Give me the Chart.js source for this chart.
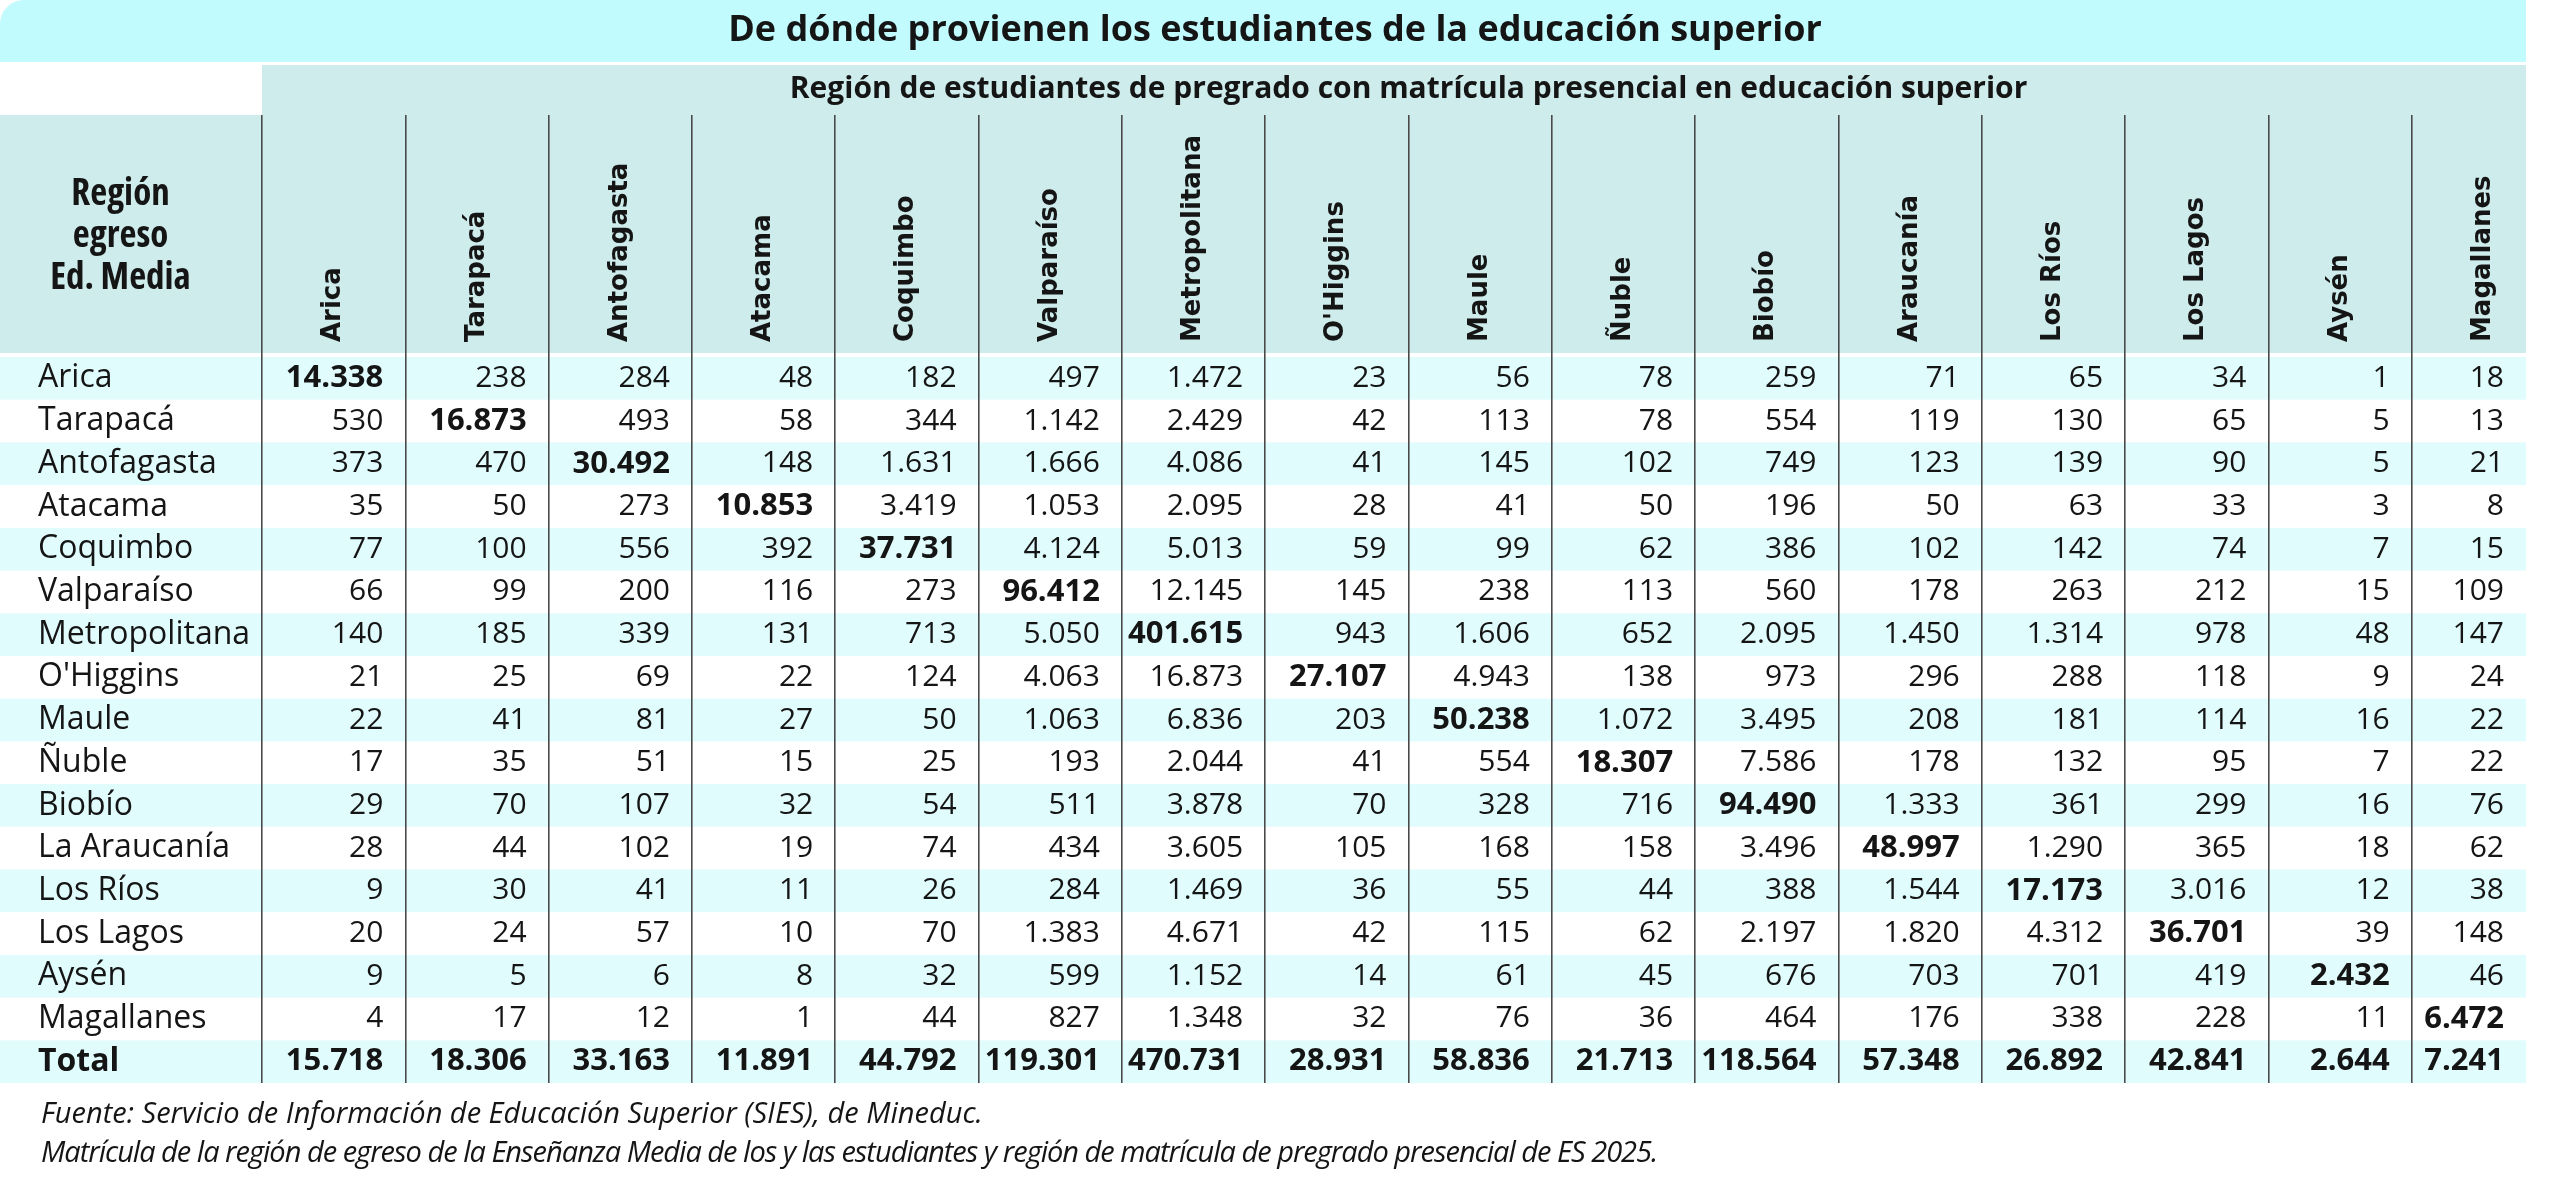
<!DOCTYPE html>
<html>
<head>
<meta charset="utf-8">
<script src="https://cdn.jsdelivr.net/npm/chart.js"></script>
<style>
  html, body { margin: 0; padding: 0; background: #ffffff; }
  #wrap { width: 2560px; height: 1182px; }
</style>
</head>
<body>
<div id="wrap"><canvas id="tabla"></canvas></div>
<script>
const titulo = 'De dónde provienen los estudiantes de la educación superior';
const subtitulo = 'Región de estudiantes de pregrado con matrícula presencial en educación superior';
const encabezadoFilas = ['Región', 'egreso', 'Ed. Media'];
const notas = [
  'Fuente: Servicio de Información de Educación Superior (SIES), de Mineduc.',
  'Matrícula de la región de egreso de la Enseñanza Media de los y las estudiantes y región de matrícula de pregrado presencial de ES 2025.'
];

// columnas: region de matricula en educacion superior
const destinos = ['Arica', 'Tarapacá', 'Antofagasta', 'Atacama', 'Coquimbo', 'Valparaíso', 'Metropolitana', "O'Higgins",
  'Maule', 'Ñuble', 'Biobío', 'Araucanía', 'Los Ríos', 'Los Lagos', 'Aysén', 'Magallanes'];
// filas: region de egreso de la ensenanza media
const origenes = ['Arica', 'Tarapacá', 'Antofagasta', 'Atacama', 'Coquimbo', 'Valparaíso', 'Metropolitana', "O'Higgins",
  'Maule', 'Ñuble', 'Biobío', 'La Araucanía', 'Los Ríos', 'Los Lagos', 'Aysén', 'Magallanes'];

const filaArica = [14338, 238, 284, 48, 182, 497, 1472, 23, 56, 78, 259, 71, 65, 34, 1, 18];
const filaTarapaca = [530, 16873, 493, 58, 344, 1142, 2429, 42, 113, 78, 554, 119, 130, 65, 5, 13];
const filaAntofagasta = [373, 470, 30492, 148, 1631, 1666, 4086, 41, 145, 102, 749, 123, 139, 90, 5, 21];
const filaAtacama = [35, 50, 273, 10853, 3419, 1053, 2095, 28, 41, 50, 196, 50, 63, 33, 3, 8];
const filaCoquimbo = [77, 100, 556, 392, 37731, 4124, 5013, 59, 99, 62, 386, 102, 142, 74, 7, 15];
const filaValparaiso = [66, 99, 200, 116, 273, 96412, 12145, 145, 238, 113, 560, 178, 263, 212, 15, 109];
const filaMetropolitana = [140, 185, 339, 131, 713, 5050, 401615, 943, 1606, 652, 2095, 1450, 1314, 978, 48, 147];
const filaOHiggins = [21, 25, 69, 22, 124, 4063, 16873, 27107, 4943, 138, 973, 296, 288, 118, 9, 24];
const filaMaule = [22, 41, 81, 27, 50, 1063, 6836, 203, 50238, 1072, 3495, 208, 181, 114, 16, 22];
const filaNuble = [17, 35, 51, 15, 25, 193, 2044, 41, 554, 18307, 7586, 178, 132, 95, 7, 22];
const filaBiobio = [29, 70, 107, 32, 54, 511, 3878, 70, 328, 716, 94490, 1333, 361, 299, 16, 76];
const filaAraucania = [28, 44, 102, 19, 74, 434, 3605, 105, 168, 158, 3496, 48997, 1290, 365, 18, 62];
const filaLosRios = [9, 30, 41, 11, 26, 284, 1469, 36, 55, 44, 388, 1544, 17173, 3016, 12, 38];
const filaLosLagos = [20, 24, 57, 10, 70, 1383, 4671, 42, 115, 62, 2197, 1820, 4312, 36701, 39, 148];
const filaAysen = [9, 5, 6, 8, 32, 599, 1152, 14, 61, 45, 676, 703, 701, 419, 2432, 46];
const filaMagallanes = [4, 17, 12, 1, 44, 827, 1348, 32, 76, 36, 464, 176, 338, 228, 11, 6472];
const totales = [15718, 18306, 33163, 11891, 44792, 119301, 470731, 28931, 58836, 21713, 118564, 57348, 26892, 42841, 2644, 7241];

const filas = [...origenes, 'Total'];
const matriz = [filaArica, filaTarapaca, filaAntofagasta, filaAtacama, filaCoquimbo, filaValparaiso, filaMetropolitana,
  filaOHiggins, filaMaule, filaNuble, filaBiobio, filaAraucania, filaLosRios, filaLosLagos, filaAysen, filaMagallanes, totales];

const SANS = '"Open Sans", "Noto Sans", sans-serif';
const WIDE = '"DejaVu Sans", Verdana, sans-serif';
const TXT = '#151515';
const CIAN = '#c1fbfd';
const TEAL = '#cdeceb';
const FRANJA = '#e1fcfd';
const CORTE = 29; // the last column is cut short in the print

const fmt = v => String(v).replace(/\B(?=(\d{3})+(?!\d))/g, '.');

const celdas = [];
matriz.forEach((fila, i) => {
  fila.forEach((v, j) => {
    celdas.push({ x: destinos[j], y: filas[i], v: v, negrita: i === j || i === origenes.length });
  });
});

const fondoYTextos = {
  id: 'fondoYTextos',
  beforeDraw(chart) {
    const ctx = chart.ctx;
    const { left, right } = chart.chartArea;
    const xs = chart.scales.x, ys = chart.scales.y;
    const fin = right - CORTE;
    ctx.save();
    ctx.fillStyle = '#ffffff';
    ctx.fillRect(0, 0, chart.width, chart.height);
    // title band
    ctx.fillStyle = CIAN;
    ctx.beginPath();
    ctx.roundRect(0, 0, fin, xs.top - 53, [24, 0, 0, 0]);
    ctx.fill();
    // subheader + header
    ctx.fillStyle = TEAL;
    ctx.fillRect(left, xs.top - 50, fin - left, 50);
    ctx.fillRect(0, xs.top, fin, xs.bottom - xs.top - 4);
    // striped rows
    const alto = ys.getPixelForValue(1) - ys.getPixelForValue(0);
    ctx.fillStyle = FRANJA;
    filas.forEach((f, i) => {
      if (i % 2 === 0) {
        const yc = ys.getPixelForValue(i);
        ctx.fillRect(0, yc - alto / 2, fin, alto);
      }
    });
    ctx.restore();
  },
  afterDatasetsDraw(chart) {
    const ctx = chart.ctx;
    const xs = chart.scales.x;
    const fin = chart.chartArea.right - CORTE;
    const ancho = xs.getPixelForValue(1) - xs.getPixelForValue(0);
    const meta = chart.getDatasetMeta(0);
    const datos = chart.data.datasets[0].data;
    ctx.save();
    ctx.fillStyle = TXT;
    ctx.textAlign = 'right';
    ctx.textBaseline = 'middle';
    meta.data.forEach((el, k) => {
      const c = datos[k];
      ctx.font = (c.negrita ? 'bold 31px ' : '30px ') + SANS;
      const xd = Math.min(el.x + ancho / 2, fin) - 22;
      ctx.fillText(fmt(c.v), xd, el.y);
    });
    ctx.restore();
  },
  afterDraw(chart) {
    const ctx = chart.ctx;
    const { left, right, bottom } = chart.chartArea;
    const xs = chart.scales.x;
    ctx.save();
    ctx.fillStyle = TXT;
    ctx.textBaseline = 'middle';
    ctx.textAlign = 'center';
    ctx.font = 'bold 36px ' + SANS;
    ctx.fillText(titulo, chart.width / 2 - 5, (xs.top - 53) / 2);
    ctx.font = 'bold 30px ' + SANS;
    ctx.fillText(subtitulo, (left + right) / 2, xs.top - 26);
    ctx.font = 'bold semi-condensed 37px ' + SANS;
    encabezadoFilas.forEach((t, i) => ctx.fillText(t, left * 0.46, xs.top + 79 + i * 42));
    ctx.textAlign = 'left';
    ctx.font = 'italic 29px ' + SANS;
    // the second note is set tighter in the print
    const espaciado = ['0px', '-1px'];
    notas.forEach((t, i) => {
      ctx.letterSpacing = espaciado[i];
      ctx.fillText(t, 41, bottom + 32 + i * 39);
    });
    ctx.restore();
  }
};

new Chart(document.getElementById('tabla'), {
  type: 'scatter',
  data: {
    datasets: [{ data: celdas, pointRadius: 0, pointHoverRadius: 0 }]
  },
  options: {
    responsive: true,
    maintainAspectRatio: false,
    animation: false,
    events: [],
    layout: { padding: { top: 115, left: 38, right: 5, bottom: 99 } },
    plugins: {
      legend: { display: false },
      tooltip: { enabled: false }
    },
    scales: {
      x: {
        type: 'category',
        labels: destinos,
        position: 'top',
        offset: true,
        border: { display: false },
        grid: {
          offset: true,
          drawTicks: true,
          tickLength: 242,
          lineWidth: 1.6,
          color: c => (c.type === 'tick' ? '#4a4a4a' : 'rgba(0,0,0,0)')
        },
        ticks: {
          autoSkip: false,
          minRotation: 90,
          maxRotation: 90,
          padding: -227,
          labelOffset: 31,
          color: TXT,
          font: { family: WIDE, size: 26, weight: 'bold' }
        },
        afterFit: s => { s.height = 242; }
      },
      y: {
        type: 'category',
        labels: filas,
        offset: true,
        border: { display: false },
        grid: { display: false },
        ticks: {
          autoSkip: false,
          crossAlign: 'far',
          color: TXT,
          font: c => ({ family: SANS, size: 32, weight: c.index === origenes.length ? 'bold' : 'normal' })
        },
        afterFit: s => { s.width = 224; }
      }
    }
  },
  plugins: [fondoYTextos]
});
</script>
</body>
</html>
